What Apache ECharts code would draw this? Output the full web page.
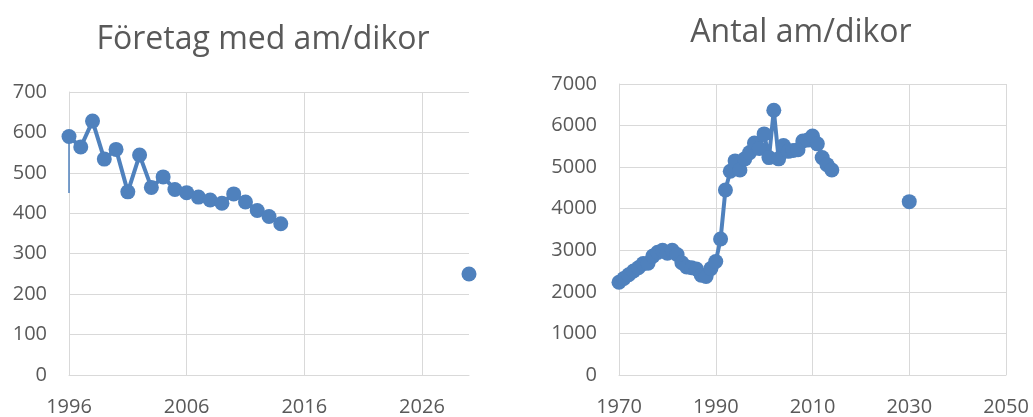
<!DOCTYPE html>
<html>
<head>
<meta charset="utf-8">
<script src="https://cdn.jsdelivr.net/npm/echarts@6/dist/echarts.min.js"></script>
<style>
html,body{margin:0;padding:0;background:#fff;}
#c{width:1033px;height:417px;}
</style>
</head>
<body>
<div id="c"></div>
<script>
// ---- Left chart: Företag med am/dikor ----
const leftTitle = 'Företag med am/dikor';
const leftYears = [1996,1997,1998,1999,2000,2001,2002,2003,2004,2005,2006,2007,2008,2009,2010,2011,2012,2013,2014];
const leftValues = [590,564,628,534,558,453,544,464,490,459,451,440,433,425,448,428,407,392,374];
const leftStubYear = 1996;      // clipped segment leading into first point
const leftStubValue = 450;
const leftProjYears = [2030];
const leftProjValues = [250];
const leftXTicks = {min:1996, max:2030, interval:10};
const leftYTicks = {min:0, max:700, interval:100};

// ---- Right chart: Antal am/dikor ----
const rightTitle = 'Antal am/dikor';
const rightYears = [1970,1971,1972,1973,1974,1975,1976,1977,1978,1979,1980,1981,1982,1983,1984,1985,1986,1987,1988,1989,
  1990,1991,1992,1993,1994,1995,1996,1997,1998,1999,2000,2001,2002,2003,2004,2005,2006,2007,2008,2009,2010,2011,2012,2013,2014];
const rightValues = [2230,2320,2410,2500,2580,2680,2690,2860,2950,3000,2930,3000,2900,2700,2600,2580,2550,2400,2370,2560,
  2730,3270,4450,4900,5150,4930,5200,5350,5580,5450,5800,5230,6370,5200,5520,5380,5400,5420,5630,5650,5750,5560,5230,5060,4930];
const rightProjYears = [2030];
const rightProjValues = [4170];
const rightXTicks = {min:1970, max:2050, interval:20};
const rightYTicks = {min:0, max:7000, interval:1000};

const BLUE = '#4F81BD';
const GRID = '#d9d9d9';
const TXT = '#595959';
const FONT = 'Open Sans';

const zip = (xs, ys) => xs.map((x, i) => [x, ys[i]]);

function xAxisCfg(idx, t, hideMax) {
  return {
    type: 'value', gridIndex: idx, min: t.min, max: t.max, interval: t.interval,
    axisLine: {show: true, onZero: false, lineStyle: {color: GRID, width: 1}},
    axisTick: {show: false},
    splitLine: {show: true, showMaxLine: !hideMax, showMinLine: false, lineStyle: {color: GRID, width: 1}},
    axisLabel: {color: TXT, fontFamily: FONT, fontSize: 20, margin: 22, showMaxLabel: !hideMax, formatter: v => String(v)}
  };
}
function yAxisCfg(idx, t) {
  return {
    type: 'value', gridIndex: idx, min: t.min, max: t.max, interval: t.interval,
    axisLine: {show: true, lineStyle: {color: GRID, width: 1}},
    axisTick: {show: false},
    splitLine: {show: true, lineStyle: {color: GRID, width: 1}},
    axisLabel: {color: TXT, fontFamily: FONT, fontSize: 20, margin: 22, formatter: v => String(v)}
  };
}

const chart = echarts.init(document.getElementById('c'), null, {renderer: 'canvas'});
chart.setOption({
  animation: false,
  backgroundColor: '#ffffff',
  title: [
    {text: leftTitle, left: 258, top: 19, textAlign: 'center',
     textStyle: {color: TXT, fontFamily: FONT, fontSize: 32, fontWeight: 'normal'}},
    {text: rightTitle, left: 796, top: 12, textAlign: 'center',
     textStyle: {color: TXT, fontFamily: FONT, fontSize: 32, fontWeight: 'normal'}}
  ],
  grid: [
    {left: 69, top: 92, width: 400, height: 284},
    {left: 619, top: 84, width: 387, height: 292}
  ],
  xAxis: [xAxisCfg(0, leftXTicks, true), xAxisCfg(1, rightXTicks, false)],
  yAxis: [yAxisCfg(0, leftYTicks), yAxisCfg(1, rightYTicks)],
  series: [
    {type: 'line', xAxisIndex: 0, yAxisIndex: 0,
     data: [[leftStubYear, leftStubValue], [leftYears[0], leftValues[0]]],
     symbol: 'none', lineStyle: {color: BLUE, width: 1.5}, z: 1},
    {type: 'line', xAxisIndex: 0, yAxisIndex: 0, data: zip(leftYears, leftValues),
     symbol: 'circle', symbolSize: 15, showSymbol: true,
     lineStyle: {color: BLUE, width: 4}, itemStyle: {color: BLUE, opacity: 1}},
    {type: 'scatter', xAxisIndex: 0, yAxisIndex: 0, data: zip(leftProjYears, leftProjValues),
     symbol: 'circle', symbolSize: 15, itemStyle: {color: BLUE, opacity: 1}, clip: false},
    {type: 'line', xAxisIndex: 1, yAxisIndex: 1, data: zip(rightYears, rightValues),
     symbol: 'circle', symbolSize: 15, showSymbol: true,
     lineStyle: {color: BLUE, width: 4}, itemStyle: {color: BLUE, opacity: 1}},
    {type: 'scatter', xAxisIndex: 1, yAxisIndex: 1, data: zip(rightProjYears, rightProjValues),
     symbol: 'circle', symbolSize: 15, itemStyle: {color: BLUE, opacity: 1}}
  ]
});
</script>
</body>
</html>
